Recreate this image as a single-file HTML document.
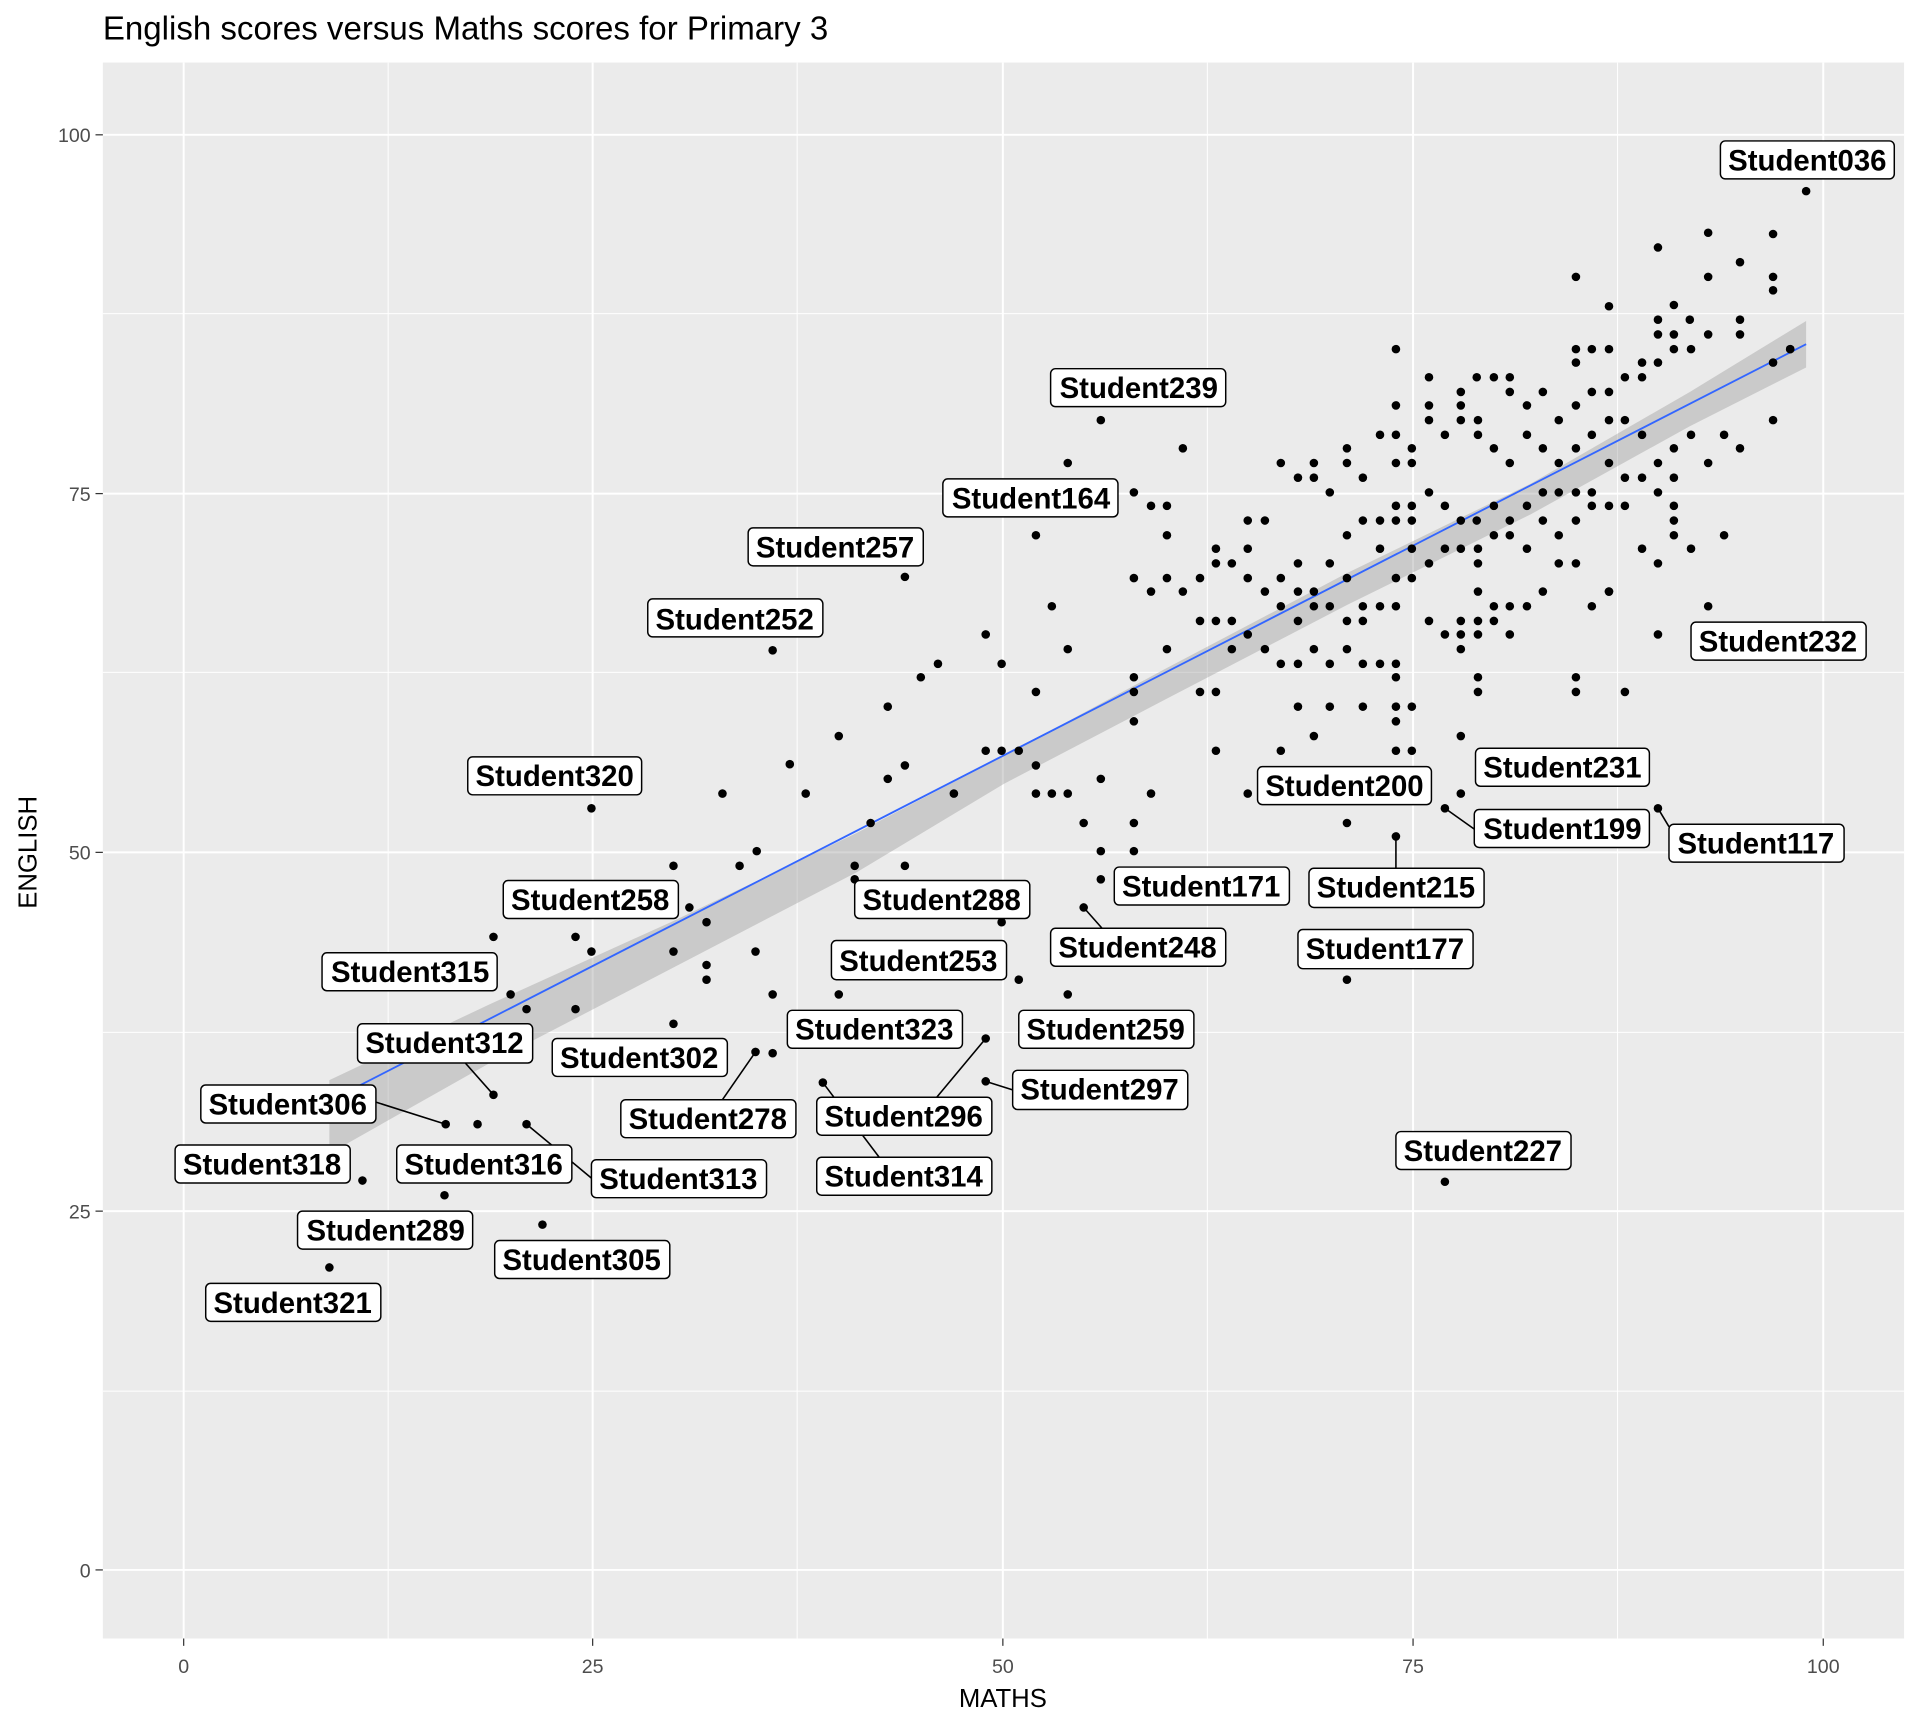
<!DOCTYPE html>
<html><head><meta charset="utf-8"><style>html,body{margin:0;padding:0;background:#fff}svg{display:block}</style></head>
<body>
<svg width="1920" height="1728" viewBox="0 0 1568 1411" xmlns="http://www.w3.org/2000/svg" font-family="Liberation Sans, sans-serif">
<rect x="0" y="0" width="1568" height="1411" fill="#fff"/>
<rect x="84" y="51" width="1471" height="1287" fill="#ebebeb"/>
<g stroke="#fff" stroke-width="0.8">
<line x1="84" x2="1555" y1="256" y2="256"/><line x1="84" x2="1555" y1="549" y2="549"/><line x1="84" x2="1555" y1="843" y2="843"/><line x1="84" x2="1555" y1="1136" y2="1136"/>
<line y1="51" y2="1338" x1="317" x2="317"/><line y1="51" y2="1338" x1="651" x2="651"/><line y1="51" y2="1338" x1="986" x2="986"/><line y1="51" y2="1338" x1="1321" x2="1321"/>
</g>
<g stroke="#fff" stroke-width="1.6">
<line x1="84" x2="1555" y1="110" y2="110"/><line x1="84" x2="1555" y1="403" y2="403"/><line x1="84" x2="1555" y1="696" y2="696"/><line x1="84" x2="1555" y1="989" y2="989"/><line x1="84" x2="1555" y1="1282" y2="1282"/>
<line y1="51" y2="1338" x1="150" x2="150"/><line y1="51" y2="1338" x1="484" x2="484"/><line y1="51" y2="1338" x1="819" x2="819"/><line y1="51" y2="1338" x1="1154" x2="1154"/><line y1="51" y2="1338" x1="1489" x2="1489"/>
</g>
<polygon points="269,882 400,820 550,752 700,680 820,617 950,547 1100,468 1250,395 1380,320 1475,262 1475,300 1380,348 1250,420 1100,494 950,572 820,640 700,712 550,790 400,868 269,942" fill="#999" opacity="0.4"/>
<line x1="269" y1="899" x2="1475" y2="281" stroke="#3366ff" stroke-width="1.5"/>
<g fill="#000">
<circle cx="1475" cy="156" r="3.5"/><circle cx="1448" cy="191" r="3.5"/><circle cx="1448" cy="226" r="3.5"/><circle cx="1448" cy="237" r="3.5"/><circle cx="1395" cy="190" r="3.5"/><circle cx="1421" cy="214" r="3.5"/><circle cx="1395" cy="226" r="3.5"/><circle cx="1354" cy="202" r="3.5"/><circle cx="1287" cy="226" r="3.5"/><circle cx="1367" cy="249" r="3.5"/><circle cx="1380" cy="261" r="3.5"/><circle cx="1354" cy="261" r="3.5"/><circle cx="1354" cy="273" r="3.5"/><circle cx="1367" cy="273" r="3.5"/><circle cx="1367" cy="285" r="3.5"/><circle cx="1395" cy="273" r="3.5"/><circle cx="1421" cy="261" r="3.5"/><circle cx="1421" cy="273" r="3.5"/><circle cx="1381" cy="285" r="3.5"/><circle cx="1354" cy="296" r="3.5"/><circle cx="1341" cy="296" r="3.5"/><circle cx="1341" cy="308" r="3.5"/><circle cx="1314" cy="250" r="3.5"/><circle cx="1314" cy="285" r="3.5"/><circle cx="1300" cy="285" r="3.5"/><circle cx="1287" cy="285" r="3.5"/><circle cx="1287" cy="296" r="3.5"/><circle cx="1327" cy="308" r="3.5"/><circle cx="1314" cy="320" r="3.5"/><circle cx="1300" cy="320" r="3.5"/><circle cx="1287" cy="331" r="3.5"/><circle cx="1273" cy="343" r="3.5"/><circle cx="1260" cy="320" r="3.5"/><circle cx="1247" cy="331" r="3.5"/><circle cx="1233" cy="308" r="3.5"/><circle cx="1233" cy="320" r="3.5"/><circle cx="1220" cy="308" r="3.5"/><circle cx="1206" cy="308" r="3.5"/><circle cx="1193" cy="320" r="3.5"/><circle cx="1193" cy="331" r="3.5"/><circle cx="1167" cy="308" r="3.5"/><circle cx="1167" cy="331" r="3.5"/><circle cx="1167" cy="343" r="3.5"/><circle cx="1140" cy="285" r="3.5"/><circle cx="1140" cy="331" r="3.5"/><circle cx="1153" cy="366" r="3.5"/><circle cx="1140" cy="378" r="3.5"/><circle cx="1153" cy="378" r="3.5"/><circle cx="1180" cy="355" r="3.5"/><circle cx="1193" cy="343" r="3.5"/><circle cx="1207" cy="343" r="3.5"/><circle cx="1207" cy="355" r="3.5"/><circle cx="1220" cy="366" r="3.5"/><circle cx="1233" cy="378" r="3.5"/><circle cx="1247" cy="355" r="3.5"/><circle cx="1260" cy="366" r="3.5"/><circle cx="1273" cy="378" r="3.5"/><circle cx="1287" cy="366" r="3.5"/><circle cx="1300" cy="355" r="3.5"/><circle cx="1314" cy="343" r="3.5"/><circle cx="1327" cy="343" r="3.5"/><circle cx="1341" cy="355" r="3.5"/><circle cx="1354" cy="378" r="3.5"/><circle cx="1367" cy="366" r="3.5"/><circle cx="1381" cy="355" r="3.5"/><circle cx="1408" cy="355" r="3.5"/><circle cx="1421" cy="366" r="3.5"/><circle cx="1448" cy="343" r="3.5"/><circle cx="1448" cy="296" r="3.5"/><circle cx="1462" cy="285" r="3.5"/><circle cx="1395" cy="378" r="3.5"/><circle cx="1367" cy="390" r="3.5"/><circle cx="1341" cy="390" r="3.5"/><circle cx="1314" cy="378" r="3.5"/><circle cx="1327" cy="390" r="3.5"/><circle cx="1300" cy="402" r="3.5"/><circle cx="1287" cy="402" r="3.5"/><circle cx="1273" cy="402" r="3.5"/><circle cx="1260" cy="402" r="3.5"/><circle cx="1247" cy="413" r="3.5"/><circle cx="1233" cy="425" r="3.5"/><circle cx="1220" cy="413" r="3.5"/><circle cx="1206" cy="425" r="3.5"/><circle cx="1193" cy="425" r="3.5"/><circle cx="1180" cy="413" r="3.5"/><circle cx="1167" cy="402" r="3.5"/><circle cx="1153" cy="413" r="3.5"/><circle cx="1153" cy="425" r="3.5"/><circle cx="1140" cy="413" r="3.5"/><circle cx="1140" cy="425" r="3.5"/><circle cx="1127" cy="425" r="3.5"/><circle cx="1113" cy="425" r="3.5"/><circle cx="1100" cy="437" r="3.5"/><circle cx="1086" cy="402" r="3.5"/><circle cx="1073" cy="390" r="3.5"/><circle cx="1073" cy="378" r="3.5"/><circle cx="1100" cy="378" r="3.5"/><circle cx="1113" cy="390" r="3.5"/><circle cx="1127" cy="355" r="3.5"/><circle cx="1140" cy="355" r="3.5"/><circle cx="1100" cy="366" r="3.5"/><circle cx="1060" cy="390" r="3.5"/><circle cx="1046" cy="378" r="3.5"/><circle cx="1086" cy="460" r="3.5"/><circle cx="1060" cy="460" r="3.5"/><circle cx="1046" cy="472" r="3.5"/><circle cx="1060" cy="483" r="3.5"/><circle cx="1073" cy="495" r="3.5"/><circle cx="1086" cy="495" r="3.5"/><circle cx="1100" cy="507" r="3.5"/><circle cx="1113" cy="507" r="3.5"/><circle cx="1127" cy="495" r="3.5"/><circle cx="1140" cy="495" r="3.5"/><circle cx="1140" cy="472" r="3.5"/><circle cx="1153" cy="472" r="3.5"/><circle cx="1167" cy="460" r="3.5"/><circle cx="1180" cy="448" r="3.5"/><circle cx="1193" cy="448" r="3.5"/><circle cx="1207" cy="448" r="3.5"/><circle cx="1220" cy="437" r="3.5"/><circle cx="1233" cy="437" r="3.5"/><circle cx="1247" cy="448" r="3.5"/><circle cx="1260" cy="425" r="3.5"/><circle cx="1273" cy="437" r="3.5"/><circle cx="1287" cy="425" r="3.5"/><circle cx="1300" cy="413" r="3.5"/><circle cx="1314" cy="413" r="3.5"/><circle cx="1327" cy="413" r="3.5"/><circle cx="1354" cy="402" r="3.5"/><circle cx="1367" cy="413" r="3.5"/><circle cx="1367" cy="425" r="3.5"/><circle cx="1367" cy="437" r="3.5"/><circle cx="1381" cy="448" r="3.5"/><circle cx="1354" cy="460" r="3.5"/><circle cx="1341" cy="448" r="3.5"/><circle cx="1314" cy="483" r="3.5"/><circle cx="1300" cy="495" r="3.5"/><circle cx="1287" cy="460" r="3.5"/><circle cx="1273" cy="460" r="3.5"/><circle cx="1260" cy="483" r="3.5"/><circle cx="1247" cy="495" r="3.5"/><circle cx="1233" cy="495" r="3.5"/><circle cx="1220" cy="495" r="3.5"/><circle cx="1207" cy="483" r="3.5"/><circle cx="1207" cy="507" r="3.5"/><circle cx="1193" cy="507" r="3.5"/><circle cx="1193" cy="518" r="3.5"/><circle cx="1193" cy="530" r="3.5"/><circle cx="1180" cy="518" r="3.5"/><circle cx="1220" cy="507" r="3.5"/><circle cx="1233" cy="518" r="3.5"/><circle cx="1207" cy="518" r="3.5"/><circle cx="1207" cy="460" r="3.5"/><circle cx="1153" cy="448" r="3.5"/><circle cx="1127" cy="448" r="3.5"/><circle cx="1100" cy="472" r="3.5"/><circle cx="1113" cy="495" r="3.5"/><circle cx="1073" cy="483" r="3.5"/><circle cx="1060" cy="507" r="3.5"/><circle cx="1046" cy="495" r="3.5"/><circle cx="1033" cy="483" r="3.5"/><circle cx="1019" cy="472" r="3.5"/><circle cx="1006" cy="460" r="3.5"/><circle cx="993" cy="460" r="3.5"/><circle cx="980" cy="472" r="3.5"/><circle cx="966" cy="483" r="3.5"/><circle cx="953" cy="472" r="3.5"/><circle cx="940" cy="483" r="3.5"/><circle cx="926" cy="472" r="3.5"/><circle cx="1019" cy="448" r="3.5"/><circle cx="1033" cy="425" r="3.5"/><circle cx="1019" cy="425" r="3.5"/><circle cx="993" cy="448" r="3.5"/><circle cx="993" cy="507" r="3.5"/><circle cx="980" cy="507" r="3.5"/><circle cx="1006" cy="507" r="3.5"/><circle cx="1006" cy="530" r="3.5"/><circle cx="1019" cy="518" r="3.5"/><circle cx="1033" cy="530" r="3.5"/><circle cx="1046" cy="542" r="3.5"/><circle cx="1060" cy="542" r="3.5"/><circle cx="1073" cy="530" r="3.5"/><circle cx="1086" cy="542" r="3.5"/><circle cx="1100" cy="530" r="3.5"/><circle cx="1113" cy="542" r="3.5"/><circle cx="1127" cy="542" r="3.5"/><circle cx="1140" cy="542" r="3.5"/><circle cx="1140" cy="553" r="3.5"/><circle cx="1153" cy="577" r="3.5"/><circle cx="1140" cy="577" r="3.5"/><circle cx="1113" cy="577" r="3.5"/><circle cx="1086" cy="577" r="3.5"/><circle cx="1060" cy="577" r="3.5"/><circle cx="1046" cy="613" r="3.5"/><circle cx="1073" cy="601" r="3.5"/><circle cx="1140" cy="589" r="3.5"/><circle cx="1140" cy="613" r="3.5"/><circle cx="1153" cy="613" r="3.5"/><circle cx="1167" cy="507" r="3.5"/><circle cx="1193" cy="601" r="3.5"/><circle cx="1207" cy="565" r="3.5"/><circle cx="1207" cy="553" r="3.5"/><circle cx="1287" cy="553" r="3.5"/><circle cx="1287" cy="565" r="3.5"/><circle cx="1327" cy="565" r="3.5"/><circle cx="1314" cy="483" r="3.5"/><circle cx="1354" cy="518" r="3.5"/><circle cx="1395" cy="495" r="3.5"/><circle cx="1408" cy="437" r="3.5"/><circle cx="1354" cy="660" r="3.5"/><circle cx="1193" cy="648" r="3.5"/><circle cx="1180" cy="660" r="3.5"/><circle cx="1100" cy="672" r="3.5"/><circle cx="1140" cy="683" r="3.5"/><circle cx="1100" cy="800" r="3.5"/><circle cx="1180" cy="965" r="3.5"/><circle cx="1019" cy="648" r="3.5"/><circle cx="993" cy="613" r="3.5"/><circle cx="993" cy="565" r="3.5"/><circle cx="980" cy="565" r="3.5"/><circle cx="953" cy="530" r="3.5"/><circle cx="926" cy="553" r="3.5"/><circle cx="926" cy="565" r="3.5"/><circle cx="926" cy="589" r="3.5"/><circle cx="926" cy="672" r="3.5"/><circle cx="926" cy="695" r="3.5"/><circle cx="940" cy="648" r="3.5"/><circle cx="899" cy="343" r="3.5"/><circle cx="872" cy="378" r="3.5"/><circle cx="926" cy="402" r="3.5"/><circle cx="940" cy="413" r="3.5"/><circle cx="953" cy="413" r="3.5"/><circle cx="953" cy="437" r="3.5"/><circle cx="966" cy="366" r="3.5"/><circle cx="846" cy="437" r="3.5"/><circle cx="859" cy="495" r="3.5"/><circle cx="872" cy="530" r="3.5"/><circle cx="846" cy="565" r="3.5"/><circle cx="846" cy="625" r="3.5"/><circle cx="832" cy="613" r="3.5"/><circle cx="846" cy="648" r="3.5"/><circle cx="859" cy="648" r="3.5"/><circle cx="872" cy="648" r="3.5"/><circle cx="885" cy="672" r="3.5"/><circle cx="899" cy="636" r="3.5"/><circle cx="899" cy="695" r="3.5"/><circle cx="899" cy="718" r="3.5"/><circle cx="885" cy="741" r="3.5"/><circle cx="872" cy="812" r="3.5"/><circle cx="832" cy="800" r="3.5"/><circle cx="818" cy="753" r="3.5"/><circle cx="818" cy="613" r="3.5"/><circle cx="818" cy="542" r="3.5"/><circle cx="805" cy="518" r="3.5"/><circle cx="805" cy="613" r="3.5"/><circle cx="779" cy="648" r="3.5"/><circle cx="766" cy="542" r="3.5"/><circle cx="752" cy="553" r="3.5"/><circle cx="739" cy="625" r="3.5"/><circle cx="725" cy="577" r="3.5"/><circle cx="725" cy="636" r="3.5"/><circle cx="711" cy="672" r="3.5"/><circle cx="698" cy="707" r="3.5"/><circle cx="698" cy="718" r="3.5"/><circle cx="739" cy="707" r="3.5"/><circle cx="739" cy="471" r="3.5"/><circle cx="645" cy="624" r="3.5"/><circle cx="658" cy="648" r="3.5"/><circle cx="685" cy="601" r="3.5"/><circle cx="685" cy="812" r="3.5"/><circle cx="672" cy="884" r="3.5"/><circle cx="618" cy="695" r="3.5"/><circle cx="604" cy="707" r="3.5"/><circle cx="590" cy="648" r="3.5"/><circle cx="577" cy="753" r="3.5"/><circle cx="563" cy="741" r="3.5"/><circle cx="550" cy="707" r="3.5"/><circle cx="550" cy="777" r="3.5"/><circle cx="577" cy="788" r="3.5"/><circle cx="577" cy="800" r="3.5"/><circle cx="631" cy="531" r="3.5"/><circle cx="617" cy="777" r="3.5"/><circle cx="631" cy="812" r="3.5"/><circle cx="617" cy="859" r="3.5"/><circle cx="631" cy="860" r="3.5"/><circle cx="550" cy="836" r="3.5"/><circle cx="483" cy="660" r="3.5"/><circle cx="470" cy="765" r="3.5"/><circle cx="483" cy="777" r="3.5"/><circle cx="470" cy="824" r="3.5"/><circle cx="430" cy="824" r="3.5"/><circle cx="417" cy="812" r="3.5"/><circle cx="403" cy="765" r="3.5"/><circle cx="403" cy="894" r="3.5"/><circle cx="390" cy="918" r="3.5"/><circle cx="364" cy="918" r="3.5"/><circle cx="430" cy="918" r="3.5"/><circle cx="363" cy="976" r="3.5"/><circle cx="296" cy="964" r="3.5"/><circle cx="269" cy="1035" r="3.5"/><circle cx="443" cy="1000" r="3.5"/><circle cx="805" cy="883" r="3.5"/><circle cx="805" cy="848" r="3.5"/><circle cx="1462" cy="285" r="3.5"/>
</g>
<g stroke="#000" stroke-width="1.3" fill="none">
<line x1="1180" y1="660" x2="1204" y2="677"/><line x1="1354" y1="660" x2="1363" y2="675"/><line x1="1140" y1="683" x2="1140" y2="709"/><line x1="885" y1="741" x2="900" y2="758"/><line x1="403" y1="894" x2="380" y2="868"/><line x1="364" y1="918" x2="307" y2="900"/><line x1="805" y1="883" x2="827" y2="890"/><line x1="617" y1="859" x2="590" y2="898"/><line x1="805" y1="848" x2="765" y2="896"/><line x1="430" y1="918" x2="483" y2="962"/><line x1="672" y1="884" x2="718" y2="945"/>
</g>
<g font-size="24" font-weight="bold" text-anchor="middle">
<g fill="#fff" stroke="#000" stroke-width="1.2">
<rect x="1405" y="115" width="142" height="31" rx="4"/><rect x="858" y="301" width="143" height="31" rx="4"/><rect x="770" y="391" width="143" height="31" rx="4"/><rect x="611" y="431" width="143" height="31" rx="4"/><rect x="529" y="489" width="143" height="31" rx="4"/><rect x="1381" y="508" width="143" height="31" rx="4"/><rect x="382" y="618" width="142" height="31" rx="4"/><rect x="1027" y="626" width="142" height="31" rx="4"/><rect x="1205" y="611" width="142" height="31" rx="4"/><rect x="1204" y="661" width="143" height="31" rx="4"/><rect x="1363" y="673" width="143" height="31" rx="4"/><rect x="910" y="708" width="143" height="31" rx="4"/><rect x="1069" y="709" width="143" height="32" rx="4"/><rect x="411" y="719" width="143" height="31" rx="4"/><rect x="698" y="719" width="143" height="31" rx="4"/><rect x="858" y="758" width="143" height="31" rx="4"/><rect x="1060" y="759" width="143" height="32" rx="4"/><rect x="263" y="778" width="143" height="31" rx="4"/><rect x="679" y="768" width="143" height="32" rx="4"/><rect x="643" y="825" width="143" height="31" rx="4"/><rect x="832" y="825" width="143" height="31" rx="4"/><rect x="292" y="836" width="143" height="32" rx="4"/><rect x="451" y="848" width="143" height="31" rx="4"/><rect x="164" y="886" width="143" height="31" rx="4"/><rect x="827" y="874" width="143" height="32" rx="4"/><rect x="507" y="898" width="143" height="31" rx="4"/><rect x="667" y="896" width="143" height="31" rx="4"/><rect x="143" y="935" width="143" height="31" rx="4"/><rect x="324" y="935" width="143" height="31" rx="4"/><rect x="483" y="947" width="143" height="31" rx="4"/><rect x="667" y="945" width="143" height="31" rx="4"/><rect x="1140" y="924" width="143" height="31" rx="4"/><rect x="243" y="989" width="143" height="31" rx="4"/><rect x="404" y="1013" width="143" height="31" rx="4"/><rect x="168" y="1048" width="143" height="31" rx="4"/>
</g>
<g fill="#000">
<text x="1476" y="139">Student036</text><text x="930" y="325">Student239</text><text x="842" y="415">Student164</text><text x="682" y="455">Student257</text><text x="600" y="514">Student252</text><text x="1452" y="532">Student232</text><text x="453" y="642">Student320</text><text x="1098" y="650">Student200</text><text x="1276" y="635">Student231</text><text x="1276" y="685">Student199</text><text x="1434" y="697">Student117</text><text x="981" y="732">Student171</text><text x="1140" y="733">Student215</text><text x="482" y="743">Student258</text><text x="769" y="743">Student288</text><text x="929" y="782">Student248</text><text x="1131" y="783">Student177</text><text x="335" y="802">Student315</text><text x="750" y="793">Student253</text><text x="714" y="849">Student323</text><text x="903" y="849">Student259</text><text x="363" y="860">Student312</text><text x="522" y="872">Student302</text><text x="235" y="910">Student306</text><text x="898" y="898">Student297</text><text x="578" y="922">Student278</text><text x="738" y="920">Student296</text><text x="214" y="959">Student318</text><text x="395" y="959">Student316</text><text x="554" y="971">Student313</text><text x="738" y="969">Student314</text><text x="1211" y="948">Student227</text><text x="315" y="1013">Student289</text><text x="475" y="1037">Student305</text><text x="239" y="1072">Student321</text>
</g></g>
<g stroke="#333" stroke-width="1">
<line x1="78" x2="84" y1="110" y2="110"/><line x1="78" x2="84" y1="403" y2="403"/><line x1="78" x2="84" y1="696" y2="696"/><line x1="78" x2="84" y1="989" y2="989"/><line x1="78" x2="84" y1="1282" y2="1282"/>
<line y1="1338" y2="1344" x1="150" x2="150"/><line y1="1338" y2="1344" x1="484" x2="484"/><line y1="1338" y2="1344" x1="819" x2="819"/><line y1="1338" y2="1344" x1="1154" x2="1154"/><line y1="1338" y2="1344" x1="1489" x2="1489"/>
</g>
<g fill="#4d4d4d" font-size="16" text-anchor="end">
<text x="74" y="116">100</text><text x="74" y="409">75</text><text x="74" y="702">50</text><text x="74" y="995">25</text><text x="74" y="1288">0</text>
</g>
<g fill="#4d4d4d" font-size="16" text-anchor="middle">
<text x="150" y="1366">0</text><text x="484" y="1366">25</text><text x="819" y="1366">50</text><text x="1154" y="1366">75</text><text x="1489" y="1366">100</text>
</g>
<text x="819" y="1394" font-size="21" text-anchor="middle" fill="#000">MATHS</text>
<text transform="translate(30,696) rotate(-90)" font-size="21" text-anchor="middle" fill="#000">ENGLISH</text>
<text x="84" y="32" font-size="27" fill="#000">English scores versus Maths scores for Primary 3</text>
</svg>
</body></html>
